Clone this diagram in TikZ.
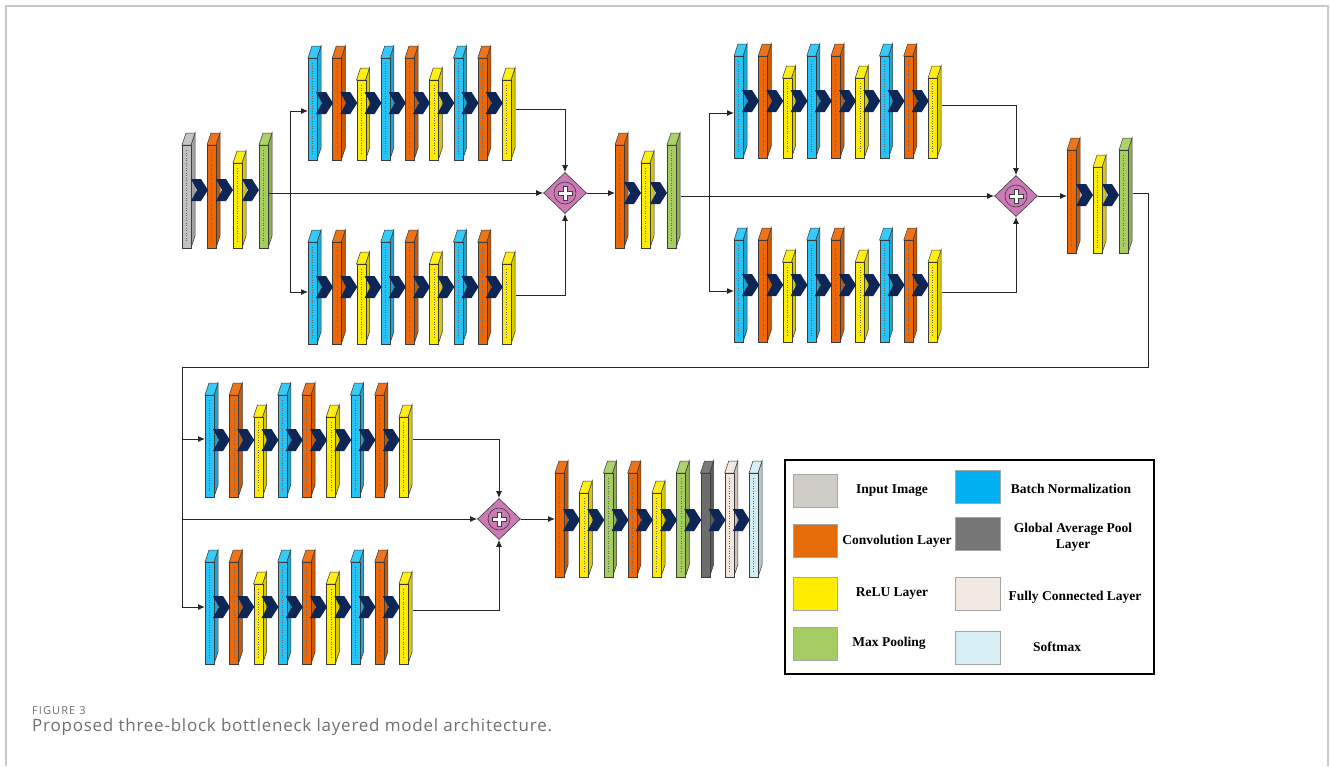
\documentclass[tikz,border=0pt]{standalone}
\usepackage{fontspec}
\usetikzlibrary{arrows.meta,shapes.geometric}
\newfontfamily\legfont{Liberation Serif}
\newfontfamily\capfont[LetterSpace=4.5]{Open Sans}
\newfontfamily\figfont[LetterSpace=10]{Open Sans}
\definecolor{inc}{RGB}{192,192,192}
\definecolor{cvc}{RGB}{236,104,8}
\definecolor{rlc}{RGB}{255,236,0}
\definecolor{mpc}{RGB}{166,206,94}
\definecolor{bnc}{RGB}{38,196,246}
\definecolor{gapc}{RGB}{110,110,110}
\definecolor{fcc}{RGB}{243,230,220}
\definecolor{smc}{RGB}{210,236,244}
\definecolor{chevc}{RGB}{14,38,86}
\definecolor{sumc}{RGB}{204,122,182}
\definecolor{edgec}{RGB}{60,60,60}
\definecolor{framec}{RGB}{200,200,200}
\definecolor{capc}{RGB}{112,112,112}
\definecolor{linc}{RGB}{208,204,200}
\definecolor{lcvc}{RGB}{230,108,10}
\definecolor{lrlc}{RGB}{255,236,0}
\definecolor{lmpc}{RGB}{164,204,96}
\definecolor{lbnc}{RGB}{0,176,240}
\definecolor{lgapc}{RGB}{118,118,118}
\definecolor{lfcc}{RGB}{242,232,226}
\definecolor{lsmc}{RGB}{214,237,243}
\tikzset{
  conn/.style={draw=black!85, line width=1pt},
  arr/.style={conn, -{Latex[length=7pt,width=6pt]}},
  layerbox/.style={draw=edgec, line width=.5pt, inner sep=0pt, minimum width=9pt, anchor=north west},
  sumnode/.style={diamond, draw=edgec, fill=sumc, line width=.6pt, minimum width=43pt, minimum height=41pt, inner sep=0pt},
  swatch/.style={draw=black!35, line width=.6pt, minimum width=44pt, minimum height=33pt, inner sep=0pt},
  legtext/.style={font=\legfont\bfseries\fontsize{13.5}{15.5}\selectfont, inner sep=0pt, align=center},
}
% #1 name, #2 x, #3 ytop, #4 ybot, #5 colour
\newcommand\drawlayer[5]{%
  \filldraw[fill=#5!85!black, draw=edgec, line width=.5pt] (#2+9,#3) -- (#2+13,#3-12) -- (#2+13,#4-12) -- (#2+9,#4) -- cycle;
  \filldraw[fill=#5!92!white, draw=edgec, line width=.5pt] (#2,#3) -- (#2+4,#3-12) -- (#2+13,#3-12) -- (#2+9,#3) -- cycle;
  \node[layerbox, fill=#5, minimum height={(#4-#3)*1pt}] (#1) at (#2,#3) {};
  \draw[dotted, line width=.5pt, black!60] ([xshift=4.5pt,yshift=-5pt]#1.north west) -- ([xshift=4.5pt,yshift=6pt]#1.south west);
}
\newcommand\drawchev[2]{%
  \fill[chevc] (#1,#2-11) -- ++(10,0) -- ++(7,11) -- ++(-7,11) -- ++(-10,0) -- ++(6,-11) -- cycle;
}
% #1 prefix, #2 x0, #3 ybot
\newcommand\drawbranch[3]{%
  \foreach \c [count=\i from 0] in {bnc,cvc,rlc,bnc,cvc,rlc,bnc,cvc,rlc}{%
    \pgfmathsetmacro\xx{#2+\i*24.25}%
    \pgfmathsetmacro\yt{mod(\i,3)==2 ? #3-80 : #3-102}%
    \drawlayer{#1\i}{\xx}{\yt}{#3}{\c}%
  }%
  \foreach \i in {0,...,7}{%
    \pgfmathsetmacro\xx{#2+\i*24.25+8}%
    \drawchev{\xx}{#3-57}%
  }%
}
\newcommand\drawplus[1]{%
  \filldraw[fill=sumc, draw=edgec, line width=.6pt] (#1.center) circle (11pt);
  \filldraw[fill=white, draw=edgec, line width=.6pt, shift={(#1.center)}] (-1.8,-7) -- (1.8,-7) -- (1.8,-1.8) -- (7,-1.8) -- (7,1.8) -- (1.8,1.8) -- (1.8,7) -- (-1.8,7) -- (-1.8,1.8) -- (-7,1.8) -- (-7,-1.8) -- (-1.8,-1.8) -- cycle;
}
\begin{document}
\begin{tikzpicture}[x=1pt,y=-1pt]
\useasboundingbox (0,0) rectangle (1330,766);
\fill[white] (0,0) rectangle (1330,766);
\draw[framec, line width=1.3pt] (6,766) -- (6,6) -- (1328,6) -- (1328,766);

% ---- input block
\drawlayer{in1}{182}{145}{248}{inc}
\drawlayer{in2}{207}{145}{248}{cvc}
\drawlayer{in3}{233}{163}{248}{rlc}
\drawlayer{in4}{259}{145}{248}{mpc}
\drawchev{191}{190}\drawchev{216}{190}\drawchev{242}{190}

% ---- block 1 branches
\drawbranch{bat}{308}{160}
\drawbranch{bab}{308}{344}
\node[sumnode] (s1) at (565,193) {};
\drawplus{s1}

% ---- block 2 head
\drawlayer{bk2a}{615}{145}{248}{cvc}
\drawlayer{bk2b}{641}{163}{248}{rlc}
\drawlayer{bk2c}{667}{145}{248}{mpc}
\drawchev{624}{193}\drawchev{650}{193}

% ---- block 2 branches
\drawbranch{bbt}{734}{158}
\drawbranch{bbb}{734}{342}
\node[sumnode] (s2) at (1016,196) {};
\drawplus{s2}

% ---- block 3 head
\drawlayer{bk3a}{1067}{150}{253}{cvc}
\drawlayer{bk3b}{1093}{167}{253}{rlc}
\drawlayer{bk3c}{1119}{150}{253}{mpc}
\drawchev{1076}{195}\drawchev{1102}{195}

% ---- block 3 branches
\drawbranch{bct}{205}{497}
\drawbranch{bcb}{205}{664}
\node[sumnode] (s3) at (499,519) {};
\drawplus{s3}

% ---- final block
\foreach \c [count=\i from 0] in {cvc,rlc,mpc,cvc,rlc,mpc,gapc,fcc,smc}{%
  \pgfmathsetmacro\xx{555+\i*24.25}%
  \pgfmathsetmacro\yt{mod(\i,3)==1 && \i<6 ? 493 : 473}%
  \drawlayer{fin\i}{\xx}{\yt}{577}{\c}%
}
\foreach \i in {0,...,7}{%
  \pgfmathsetmacro\xx{555+\i*24.25+8}%
  \drawchev{\xx}{520}%
}

% ---- connectors block 1
\coordinate (j1) at (290,193);
\coordinate (j1t) at (290,111);
\coordinate (j1b) at (290,292);
\coordinate (o1t) at (565,109);
\coordinate (o1b) at (565,295);
\draw[conn] (in4.east |- j1) -- (j1);
\draw[conn] (j1t) -- (j1b);
\draw[arr] (j1t) -- (bat0.west |- j1t);
\draw[arr] (j1b) -- (bab0.west |- j1b);
\draw[arr] (j1) -- (s1.west);
\draw[arr] ([xshift=4pt]bat8.east |- o1t) -- (o1t) -- (s1.north);
\draw[arr] ([xshift=4pt]bab8.east |- o1b) -- (o1b) -- (s1.south);
\draw[arr] (s1.east) -- (bk2a.west |- s1.east);

% ---- connectors block 2
\coordinate (j2) at (709,196);
\coordinate (j2t) at (709,113);
\coordinate (j2b) at (709,291);
\coordinate (o2t) at (1016,105);
\coordinate (o2b) at (1016,292);
\draw[conn] ([xshift=4pt]bk2c.east |- j2) -- (j2);
\draw[conn] (j2t) -- (j2b);
\draw[arr] (j2t) -- (bbt0.west |- j2t);
\draw[arr] (j2b) -- (bbb0.west |- j2b);
\draw[arr] (j2) -- (s2.west);
\draw[arr] ([xshift=4pt]bbt8.east |- o2t) -- (o2t) -- (s2.north);
\draw[arr] ([xshift=4pt]bbb8.east |- o2b) -- (o2b) -- (s2.south);
\draw[arr] (s2.east) -- (bk3a.west |- s2.east);

% ---- connectors block 3
\coordinate (c1) at (1148,193);
\coordinate (c2) at (1148,367);
\coordinate (c3) at (182,367);
\coordinate (j3t) at (182,439);
\coordinate (j3m) at (182,519);
\coordinate (j3b) at (182,607);
\coordinate (o3t) at (499,439);
\coordinate (o3b) at (499,610);
\draw[conn] ([xshift=4pt]bk3c.east |- c1) -- (c1) -- (c2) -- (c3) -- (j3b);
\draw[arr] (j3t) -- (bct0.west |- j3t);
\draw[arr] (j3b) -- (bcb0.west |- j3b);
\draw[arr] (j3m) -- (s3.west);
\draw[arr] ([xshift=4pt]bct8.east |- o3t) -- (o3t) -- (s3.north);
\draw[arr] ([xshift=4pt]bcb8.east |- o3b) -- (o3b) -- (s3.south);
\draw[arr] (s3.east) -- (fin0.west |- s3.east);

% ---- legend
\draw[black, line width=2pt] (785,460) rectangle (1154,674);
\node[swatch, fill=linc] (lg1) at (815,490.5) {};
\node[swatch, fill=lcvc] (lg2) at (815,540.5) {};
\node[swatch, fill=lrlc] (lg3) at (815,594) {};
\node[swatch, fill=lmpc] (lg4) at (815,644) {};
\node[swatch, fill=lbnc, minimum width=45pt] (lg5) at (977.5,486.5) {};
\node[swatch, fill=lgapc, minimum width=45pt] (lg6) at (977.5,533.5) {};
\node[swatch, fill=lfcc, minimum width=45pt] (lg7) at (977.5,594) {};
\node[swatch, fill=lsmc, minimum width=45pt] (lg8) at (977.5,648) {};
\node[legtext] (lt1) at (892,491) {Input Image};
\node[legtext] (lt2) at (897,541) {Convolution Layer};
\node[legtext] (lt3) at (892,594) {ReLU Layer};
\node[legtext] (lt4) at (889,643) {Max Pooling};
\node[legtext] (lt5) at (1071,489) {Batch Normalization};
\node[legtext] (lt6) at (1073,537.5) {Global Average Pool\\Layer};
\node[legtext] (lt7) at (1075,597) {Fully Connected Layer};
\node[legtext] (lt8) at (1057,647) {Softmax};

% ---- caption
\node[anchor=base west, inner sep=0pt, text=capc, font=\figfont\fontsize{11}{13}\selectfont] (cap1) at (32,714) {FIGURE 3};
\node[anchor=base west, inner sep=0pt, text=capc, font=\capfont\fontsize{17}{20}\selectfont] (cap2) at (32,731) {Proposed three-block bottleneck layered model architecture.};
\end{tikzpicture}
\end{document}
